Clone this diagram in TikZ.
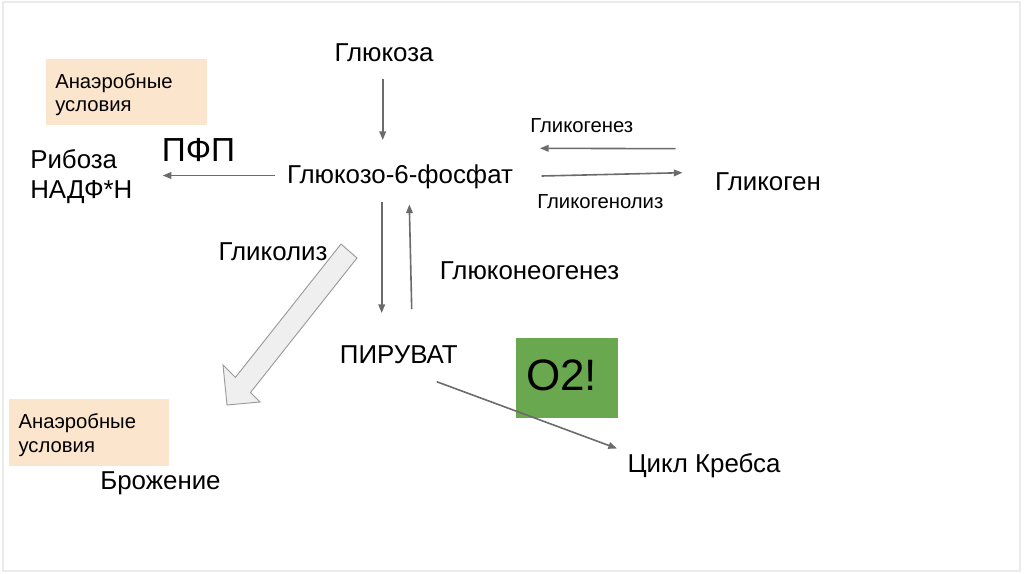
\documentclass[tikz,border=0pt]{standalone}
\usepackage{fontspec}
\setmainfont{Liberation Sans}
\usetikzlibrary{arrows.meta}
\definecolor{arrgray}{HTML}{6B6B6B}
\definecolor{peach}{HTML}{FCE5CD}
\definecolor{grn}{HTML}{6AA84F}
\definecolor{hollowfill}{HTML}{EFEFEF}
\definecolor{hollowline}{HTML}{9A9A9A}
\begin{document}
\begin{tikzpicture}[x=0.75pt,y=-0.75pt,
  lbl/.style={inner sep=0pt,anchor=base,font=\fontsize{19.4}{23}\selectfont},
  lblw/.style={inner sep=0pt,anchor=base west,font=\fontsize{19.4}{23}\selectfont},
  sm/.style={inner sep=0pt,anchor=base,font=\fontsize{15.2}{18}\selectfont},
  smw/.style={inner sep=0pt,anchor=base west,font=\fontsize{15.2}{18}\selectfont},
  arr/.style={draw=arrgray,line width=1.2pt,-{Triangle[length=6.5pt,width=5pt]}},
  peachbox/.style={fill=peach,draw=none,anchor=north west,inner sep=0pt},
  greenbox/.style={fill=grn,draw=none,anchor=north west,inner sep=0pt}]
\useasboundingbox (0,0) rectangle (1024,574);
% faint slide frame
\draw[black!8,line width=0.8pt] (3,2) rectangle (1020,571);

% coloured boxes
\node[peachbox,minimum width=121pt,minimum height=50pt] (box1) at (45.7,58.3) {};
\node[peachbox,minimum width=120.5pt,minimum height=50.2pt] (box2) at (8.3,399) {};
\node[greenbox,minimum width=76.5pt,minimum height=60pt] (o2box) at (516,338) {};

% texts
\node[smw] (an1a) at (55,88.3) {Анаэробные};
\node[smw] (an1b) at (55,111.7) {условия};
\node[smw] (an2a) at (18.3,428.3) {Анаэробные};
\node[smw] (an2b) at (18.3,452.7) {условия};

\node[lbl] (glc) at (384,62) {Глюкоза};
\node[lbl] (g6p) at (400,183.3) {Глюкозо-6-фосфат};
\node[lblw] (rib) at (30,168.3) {Рибоза};
\node[lblw] (nadph) at (30,198.3) {НАДФ*Н};
\node[inner sep=0pt,anchor=base,font=\fontsize{25}{30}\selectfont] (pfp) at (198.5,161.7) {ПФП};
\node[sm] (glgenez) at (581.7,132.3) {Гликогенез};
\node[sm] (glgenoliz) at (600.3,208.3) {Гликогенолиз};
\node[lbl] (glycogen) at (768,190.7) {Гликоген};
\node[lbl] (glycoliz) at (273,260.5) {Гликолиз};
\node[lbl] (gng) at (529.5,279.3) {Глюконеогенез};
\node[lbl] (pyr) at (398.8,363.3) {ПИРУВАТ};
\node[lbl] (krebs) at (704,472.7) {Цикл Кребса};
\node[lbl] (ferm) at (160.5,489) {Брожение};
\node[inner sep=0pt,anchor=base west,font=\fontsize{33}{38}\selectfont] (o2) at (526,390) {O2!};

% connector end points
\coordinate (glcS) at (382.7,79.3);
\coordinate (g6pN) at (382.7,140);
\coordinate (g6pW) at (275,175.5);
\coordinate (ribE) at (162.7,175.5);
\coordinate (genA) at (675.7,148.7);
\coordinate (genB) at (540,148.3);
\coordinate (lysA) at (541.7,176);
\coordinate (lysB) at (682.5,172.7);
\coordinate (downA) at (381.7,202);
\coordinate (downB) at (381.7,313);
\coordinate (upA) at (411.7,309);
\coordinate (upB) at (409.3,204.5);
\coordinate (pyrE) at (436.7,381.7);
\coordinate (krebsN) at (617,448.5);

\draw[arr] (glcS) -- (g6pN);
\draw[arr] (g6pW) -- (ribE);
\draw[arr] (genA) -- (genB);
\draw[arr] (lysA) -- (lysB);
\draw[arr] (downA) -- (downB);
\draw[arr] (upA) -- (upB);
\draw[arr] (pyrE) -- (krebsN);

% hollow block arrow (glycolysis -> fermentation)
\draw[draw=hollowline,fill=hollowfill,line width=0.7pt,line join=miter]
  (341,244) -- (357,258) -- (250.5,392.5) -- (260,402) -- (227,405)
  -- (223,365) -- (235.4,377.4) -- cycle;
\end{tikzpicture}
\end{document}
